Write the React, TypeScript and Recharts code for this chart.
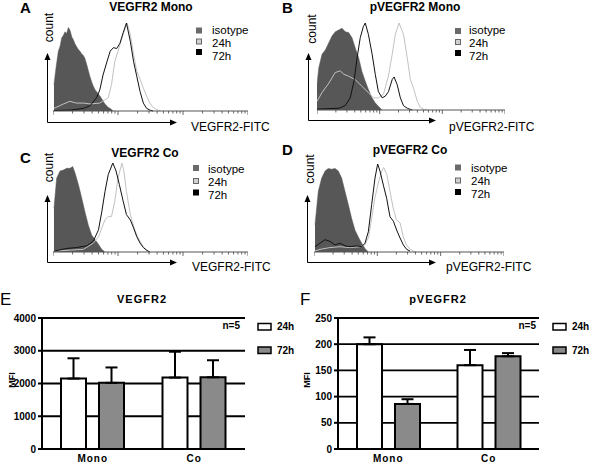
import React from "react";
import {
  ComposedChart, Area, Line, XAxis, YAxis,
  BarChart, Bar, CartesianGrid, ErrorBar,
} from "recharts";

type Pt = [number, number];

// flow histograms: x = decades on the log FITC axis, y = % of the modal count
const A_ISO: Pt[] = [[0.015, 30], [0.046, 49], [0.082, 68], [0.11, 74], [0.133, 83], [0.16, 86], [0.185, 90], [0.21, 88], [0.236, 95], [0.26, 92], [0.272, 89], [0.29, 84], [0.313, 81], [0.34, 76], [0.364, 73], [0.39, 70], [0.415, 68], [0.44, 65], [0.467, 63], [0.49, 60], [0.518, 53], [0.54, 47], [0.569, 39], [0.6, 32], [0.621, 28], [0.65, 24], [0.672, 22], [0.7, 19], [0.723, 17], [0.75, 14], [0.774, 11], [0.8, 8], [0.826, 6], [0.85, 4], [0.877, 3], [0.928, 0]];
const A_24H: Pt[] = [[0.015, 3], [0.16, 8], [0.26, 11], [0.36, 9], [0.47, 9], [0.57, 8], [0.72, 9], [0.85, 15], [0.9, 30], [0.95, 56], [1.0, 68], [1.06, 83], [1.11, 94], [1.14, 100], [1.19, 87], [1.24, 64], [1.29, 45], [1.34, 36], [1.39, 26], [1.44, 17], [1.49, 9], [1.54, 4], [1.6, 1.5], [1.65, 0]];
const A_72H: Pt[] = [[0.015, 0.5], [0.26, 1], [0.47, 3], [0.57, 6], [0.67, 15], [0.72, 24], [0.77, 41], [0.83, 56], [0.88, 68], [0.93, 72], [0.98, 71], [1.03, 77], [1.08, 89], [1.13, 100], [1.19, 79], [1.24, 56], [1.29, 39], [1.34, 22], [1.39, 9], [1.44, 3], [1.49, 1], [1.54, 0]];

const B_ISO: Pt[] = [[0.0, 29], [0.027, 48], [0.08, 64], [0.133, 69], [0.186, 77], [0.239, 85], [0.293, 90], [0.346, 92], [0.399, 94], [0.452, 90], [0.505, 89], [0.559, 83], [0.612, 71], [0.665, 60], [0.718, 44], [0.771, 33], [0.824, 23], [0.878, 14], [0.931, 8], [0.984, 4], [1.037, 0]];
const B_24H: Pt[] = [[0, 10], [0.08, 20], [0.19, 31], [0.29, 43], [0.37, 45], [0.43, 41], [0.5, 39], [0.61, 35], [0.72, 27], [0.82, 20], [0.9, 14], [0.98, 14], [1.06, 18], [1.14, 39], [1.2, 64], [1.25, 87], [1.31, 100], [1.38, 87], [1.44, 60], [1.49, 35], [1.54, 25], [1.6, 10], [1.65, 3], [1.7, 1], [1.76, 0]];
const B_72H: Pt[] = [[0, 1], [0.35, 2], [0.45, 5], [0.53, 14], [0.59, 33], [0.64, 60], [0.69, 83], [0.74, 96], [0.77, 100], [0.82, 87], [0.88, 64], [0.93, 41], [0.98, 21], [1.04, 14], [1.09, 16], [1.14, 21], [1.2, 35], [1.23, 38], [1.28, 29], [1.33, 14], [1.38, 5], [1.44, 2], [1.52, 0]];

const C_ISO: Pt[] = [[0.015, 49], [0.056, 83], [0.108, 91], [0.159, 92], [0.21, 94], [0.262, 94], [0.303, 96], [0.338, 89], [0.39, 76], [0.441, 61], [0.492, 45], [0.544, 30], [0.595, 19], [0.646, 14], [0.697, 9], [0.749, 3], [0.8, 0]];
const C_24H: Pt[] = [[0.015, 1], [0.47, 3], [0.62, 10], [0.7, 17], [0.75, 27], [0.8, 36], [0.85, 40], [0.9, 40], [0.95, 57], [1.0, 83], [1.06, 100], [1.09, 91], [1.13, 68], [1.19, 42], [1.24, 29], [1.29, 19], [1.34, 12], [1.39, 6], [1.44, 2], [1.49, 0]];
const C_72H: Pt[] = [[0.015, 1], [0.21, 4], [0.36, 5], [0.52, 7], [0.62, 12], [0.7, 25], [0.75, 45], [0.8, 68], [0.85, 87], [0.92, 100], [0.97, 91], [1.02, 76], [1.08, 57], [1.13, 42], [1.19, 36], [1.24, 27], [1.29, 17], [1.34, 10], [1.39, 5], [1.44, 2], [1.49, 0]];

const D_ISO: Pt[] = [[0.016, 31], [0.068, 69], [0.121, 84], [0.174, 92], [0.226, 95], [0.279, 94], [0.332, 95], [0.384, 92], [0.437, 84], [0.489, 69], [0.542, 54], [0.595, 38], [0.647, 25], [0.7, 17], [0.753, 10], [0.805, 4], [0.858, 0]];
const D_24H: Pt[] = [[0.016, 1], [0.095, 3], [0.25, 5], [0.41, 6], [0.57, 5], [0.73, 6], [0.8, 8], [0.86, 16], [0.91, 38], [0.96, 61], [1.02, 80], [1.07, 92], [1.1, 96], [1.15, 88], [1.2, 69], [1.25, 50], [1.3, 37], [1.36, 33], [1.41, 17], [1.46, 8], [1.52, 3], [1.57, 1], [1.62, 0]];
const D_72H: Pt[] = [[0.016, 6], [0.095, 10], [0.174, 14], [0.253, 12], [0.332, 8], [0.411, 10], [0.489, 7], [0.568, 6], [0.674, 7], [0.753, 6], [0.805, 10], [0.858, 23], [0.911, 54], [0.963, 84], [1.005, 100], [1.042, 92], [1.095, 76], [1.147, 61], [1.2, 40], [1.253, 35], [1.305, 25], [1.358, 16], [1.411, 8], [1.463, 3], [1.516, 1]];

// MFI bar charts
const GROUPS = ["Mono", "Co"];
const E_24H = [2150, 2180];
const E_24H_SD = [620, 790];
const E_72H = [2020, 2190];
const E_72H_SD = [470, 520];
const E_TICKS = [0, 1000, 2000, 3000, 4000];
const F_24H = [200, 160];
const F_24H_SD = [13, 29];
const F_72H = [86, 177];
const F_72H_SD = [9, 6];
const F_TICKS = [0, 50, 100, 150, 200, 250];

const HIST_LEGEND = ["isotype", "24h", "72h"];
const BAR_LEGEND = ["24h", "72h"];

const FONT = '"Liberation Sans", Arial, sans-serif';
const ISO_FILL = "#575757";
const LIGHT = "#c2c2c2";
const DARK = "#111";
const BAR_GRAY = "#8a8a8a";

// log decade minor ticks along the FITC axis
const LOG_TICKS: number[] = [];
for (let d = 0; d < 3; d++) for (let m = 1; m < 10; m++) LOG_TICKS.push(d + Math.log10(m));
LOG_TICKS.push(3);

const rows = (pts: Pt[]) => pts.map(([x, y]) => ({ x, y }));

function LogTick(props: any) {
  const { x, y, payload } = props;
  const major = Math.abs(payload.value - Math.round(payload.value)) < 1e-6;
  return <line x1={x} x2={x} y1={y} y2={y + (major ? 4 : 2.5)} stroke="#444" strokeWidth={0.8} />;
}

type Panel = {
  letter: string; lx: number; ly: number;
  title: string; tx: number; ty: number;
  cx: number; cy: number;
  label: string; labx: number; laby: number;
  ox: number; oy: number; top: number; right: number;
  sqx: number; legx: number; sq: number[]; tb: number[];
  x0: number; x1: number; yTop: number; yBase: number;
  iso: Pt[]; h24: Pt[]; h72: Pt[];
};

const PANELS: Panel[] = [
  { letter: "A", lx: 20, ly: 13, title: "VEGFR2 Mono", tx: 151, ty: 11, cx: 53, cy: 27.5, label: "VEGFR2-FITC", labx: 191, laby: 131, ox: 47, oy: 122, top: 53, right: 177, sqx: 196, legx: 212, sq: [30.5, 41.5, 52], tb: [34, 47, 60], x0: 53, x1: 248, yTop: 23, yBase: 111, iso: A_ISO, h24: A_24H, h72: A_72H },
  { letter: "B", lx: 282, ly: 13, title: "pVEGFR2 Mono", tx: 415, ty: 11, cx: 316, cy: 29, label: "pVEGFR2-FITC", labx: 449, laby: 131, ox: 308, oy: 120, top: 53, right: 436, sqx: 455, legx: 469, sq: [31, 42, 53], tb: [34, 47, 60], x0: 317, x1: 505, yTop: 23, yBase: 110, iso: B_ISO, h24: B_24H, h72: B_72H },
  { letter: "C", lx: 20, ly: 163, title: "VEGFR2 Co", tx: 145, ty: 157, cx: 53, cy: 167.5, label: "VEGFR2-FITC", labx: 192, laby: 271, ox: 47, oy: 262, top: 195, right: 177, sqx: 193, legx: 208, sq: [168, 181, 192.5], tb: [173, 186, 199], x0: 53, x1: 248, yTop: 163, yBase: 252, iso: C_ISO, h24: C_24H, h72: C_72H },
  { letter: "D", lx: 282, ly: 155, title: "pVEGFR2 Co", tx: 410, ty: 154, cx: 314, cy: 169, label: "pVEGFR2-FITC", labx: 446, laby: 271, ox: 307, oy: 262, top: 195, right: 436, sqx: 455, legx: 471, sq: [167.5, 180.5, 192], tb: [172, 185, 198], x0: 314, x1: 504, yTop: 164, yBase: 252, iso: D_ISO, h24: D_24H, h72: D_72H },
];

const LEGEND_SQ = [
  { fill: "#6a6a6a", stroke: "#6a6a6a" },
  { fill: "#d0d0d0", stroke: "#666" },
  { fill: "#000", stroke: "#000" },
];

function Histogram({ p }: { p: Panel }) {
  const pad = 2;
  return (
    <div style={{ position: "absolute", left: p.x0, top: p.yTop - pad }}>
      <ComposedChart
        width={p.x1 - p.x0}
        height={p.yBase - p.yTop + pad + 6}
        margin={{ top: pad, right: 0, bottom: 0, left: 0 }}
      >
        <XAxis
          type="number" dataKey="x" domain={[0, 3]} ticks={LOG_TICKS} interval={0}
          height={6} tickSize={0} tickMargin={0} tickLine={false}
          tick={<LogTick />} axisLine={{ stroke: "#555" }}
        />
        <YAxis hide domain={[0, 100]} />
        <Area
          data={rows(p.iso)} dataKey="y" type="linear" fill={ISO_FILL} fillOpacity={1}
          stroke={ISO_FILL} strokeWidth={0.5} dot={false} activeDot={false} isAnimationActive={false}
        />
        <Line data={rows(p.h24)} dataKey="y" type="linear" stroke={LIGHT} strokeWidth={1} dot={false} activeDot={false} isAnimationActive={false} />
        <Line data={rows(p.h72)} dataKey="y" type="linear" stroke={DARK} strokeWidth={1} dot={false} activeDot={false} isAnimationActive={false} />
      </ComposedChart>
    </div>
  );
}

function HistDecor({ p }: { p: Panel }) {
  const ox = p.ox + 0.5;
  const oy = p.oy + 0.5;
  return (
    <g fontFamily={FONT} fill="#000">
      <text x={p.lx} y={p.ly} fontSize={15} fontWeight="bold">{p.letter}</text>
      <text x={p.tx} y={p.ty} fontSize={12} fontWeight="bold" textAnchor="middle">{p.title}</text>
      <text x={p.cx} y={p.cy} fontSize={12} textAnchor="middle" transform={`rotate(-90 ${p.cx} ${p.cy})`}>count</text>
      <text x={p.labx} y={p.laby} fontSize={12}>{p.label}</text>
      <line x1={ox} y1={oy} x2={ox} y2={p.top + 5} stroke="#000" />
      <polygon points={`${ox},${p.top} ${ox - 3},${p.top + 7} ${ox + 3},${p.top + 7}`} />
      <line x1={ox} y1={oy} x2={p.right - 5} y2={oy} stroke="#000" />
      <polygon points={`${p.right},${oy} ${p.right - 7},${oy - 3} ${p.right - 7},${oy + 3}`} />
      {HIST_LEGEND.map((name, i) => (
        <g key={name}>
          <rect x={p.sqx + 0.5} y={p.sq[i] - 2.5} width={5} height={5} fill={LEGEND_SQ[i].fill} stroke={LEGEND_SQ[i].stroke} strokeWidth={1} />
          <text x={p.legx} y={p.tb[i]} fontSize={11.5}>{name}</text>
        </g>
      ))}
    </g>
  );
}

type BarPanel = {
  letter: string; lx: number; left: number; width: number; title: string; tx: number;
  mfiX: number; nX: number; sqx: number;
  d24: number[]; s24: number[]; d72: number[]; s72: number[]; ticks: number[];
};

const BAR_PANELS: BarPanel[] = [
  { letter: "E", lx: 0, left: 0, width: 245, title: "VEGFR2", tx: 142, mfiX: 15, nX: 240, sqx: 258, d24: E_24H, s24: E_24H_SD, d72: E_72H, s72: E_72H_SD, ticks: E_TICKS },
  { letter: "F", lx: 300, left: 296, width: 243, title: "pVEGFR2", tx: 438, mfiX: 310, nX: 536, sqx: 553, d24: F_24H, s24: F_24H_SD, d72: F_72H, s72: F_72H_SD, ticks: F_TICKS },
];

const axisTick = { fill: "#000", fontSize: 10, fontWeight: "bold", fontFamily: FONT };

function MfiChart({ b }: { b: BarPanel }) {
  const data = GROUPS.map((g, i) => ({
    g, h24: b.d24[i], e24: [0, b.s24[i]], h72: b.d72[i], e72: [0, b.s72[i]],
  }));
  const max = b.ticks[b.ticks.length - 1];
  return (
    <div style={{ position: "absolute", left: b.left, top: 310 }}>
      <BarChart
        width={b.width} height={154} data={data}
        margin={{ top: 8, right: 0, bottom: 0, left: 0 }}
        barGap={13} barCategoryGap={19}
      >
        <CartesianGrid vertical={false} stroke="#000" strokeWidth={1.8} />
        <XAxis
          dataKey="g" height={15} tickLine={false} tickSize={6} tickMargin={0}
          axisLine={{ stroke: "#000", strokeWidth: 2 }} tick={{ ...axisTick, letterSpacing: 1 }}
        />
        <YAxis
          width={42} domain={[0, max]} ticks={b.ticks} interval={0} tickSize={4} tickMargin={2}
          axisLine={{ stroke: "#000", strokeWidth: 2 }} tickLine={{ stroke: "#000", strokeWidth: 2 }} tick={axisTick}
        />
        <Bar dataKey="h24" fill="#fff" stroke="#000" strokeWidth={2} barSize={25} isAnimationActive={false}>
          <ErrorBar dataKey="e24" width={6} stroke="#000" strokeWidth={2} direction="y" isAnimationActive={false} />
        </Bar>
        <Bar dataKey="h72" fill={BAR_GRAY} stroke="#000" strokeWidth={2} barSize={25} isAnimationActive={false}>
          <ErrorBar dataKey="e72" width={6} stroke="#000" strokeWidth={2} direction="y" isAnimationActive={false} />
        </Bar>
      </BarChart>
    </div>
  );
}

function BarDecor({ b }: { b: BarPanel }) {
  return (
    <g fontFamily={FONT} fill="#000">
      <text x={b.lx} y={305} fontSize={17}>{b.letter}</text>
      <text x={b.tx} y={303} fontSize={11} fontWeight="bold" letterSpacing={1} textAnchor="middle">{b.title}</text>
      <text x={b.mfiX} y={380} fontSize={9} fontWeight="bold" textAnchor="middle" transform={`rotate(-90 ${b.mfiX} 380)`}>MFI</text>
      <text x={b.nX} y={329} fontSize={10} fontWeight="bold" textAnchor="end">n=5</text>
      {BAR_LEGEND.map((name, i) => (
        <g key={name}>
          <rect x={b.sqx} y={323.5 + i * 23.5} width={13} height={6.5} fill={i === 0 ? "#fff" : BAR_GRAY} stroke="#000" strokeWidth={1.5} />
          <text x={b.sqx + 19} y={330 + i * 23.5} fontSize={10} fontWeight="bold">{name}</text>
        </g>
      ))}
    </g>
  );
}

export default function App() {
  return (
    <div style={{ position: "absolute", left: 0, top: 0, width: 592, height: 464, background: "#fff", overflow: "hidden" }}>
      {PANELS.map((p) => <Histogram key={p.letter} p={p} />)}
      {BAR_PANELS.map((b) => <MfiChart key={b.letter} b={b} />)}
      <svg width={592} height={464} style={{ position: "absolute", left: 0, top: 0, pointerEvents: "none" }}>
        {PANELS.map((p) => <HistDecor key={p.letter} p={p} />)}
        {BAR_PANELS.map((b) => <BarDecor key={b.letter} b={b} />)}
      </svg>
    </div>
  );
}
